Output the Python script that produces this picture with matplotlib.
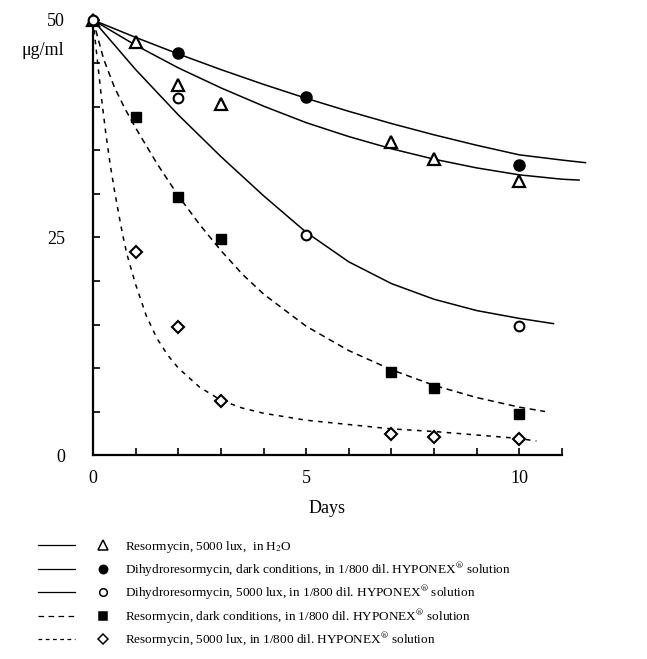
import matplotlib
matplotlib.use("Agg")
import matplotlib.pyplot as plt
from matplotlib.lines import Line2D
from matplotlib.legend_handler import HandlerTuple

plt.rcParams['font.family'] = ['Liberation Serif', 'DejaVu Serif']
plt.rcParams['mathtext.fontset'] = 'stix'

# ---- measured points ----
tri_days = [0, 1, 2, 3, 7, 8, 10]
tri_vals = [50, 47.5, 42.5, 40.4, 36.0, 34.0, 31.5]

fcirc_days = [2, 5, 10]
fcirc_vals = [46.2, 41.1, 33.3]

ocirc_days = [0, 2, 5, 10]
ocirc_vals = [50, 41.0, 25.3, 14.8]

sq_days = [1, 2, 3, 7, 8, 10]
sq_vals = [38.9, 29.7, 24.8, 9.5, 7.7, 4.7]

dia_days = [1, 2, 3, 7, 8, 10]
dia_vals = [23.3, 14.7, 6.2, 2.4, 2.1, 1.8]

# ---- fitted curves ----
curveA_x = [0, 1, 2, 3, 4, 5, 6, 7, 8, 9, 10, 11, 11.55]
curveA_y = [50, 48.0, 46.1, 44.3, 42.6, 41.0, 39.5, 38.1, 36.8, 35.6, 34.5, 33.9, 33.6]

curveB_x = [0, 1, 2, 3, 4, 5, 6, 7, 8, 9, 10, 11, 11.4]
curveB_y = [50, 47.1, 44.5, 42.2, 40.1, 38.2, 36.6, 35.2, 34.0, 33.0, 32.2, 31.7, 31.6]

curveC_x = [0, 1, 2, 3, 4, 5, 6, 7, 8, 9, 10, 10.8]
curveC_y = [50, 44.3, 39.1, 34.3, 29.8, 25.6, 22.2, 19.7, 17.9, 16.6, 15.7, 15.1]

curveD_x = [0, 0.25, 0.5, 0.75, 1, 1.5, 2, 2.5, 3, 3.5, 4, 5, 6, 7, 8, 9, 10, 10.6]
curveD_y = [50, 45.5, 42.3, 39.8, 37.6, 33.5, 29.8, 26.5, 23.5, 20.8, 18.5, 14.8, 12.0, 9.8, 8.0, 6.6, 5.5, 5.0]

curveE_x = [0, 0.1, 0.2, 0.3, 0.4, 0.5, 0.6, 0.7, 0.8, 1.0, 1.25, 1.5, 1.75, 2, 2.5, 3, 3.5, 4, 5, 6, 7, 8, 9, 10, 10.4]
curveE_y = [50, 45.5, 41.0, 37.0, 33.5, 30.5, 27.8, 25.2, 23.0, 19.6, 16.0, 13.4, 11.5, 10.0, 7.8, 6.3, 5.4, 4.8, 4.0, 3.5, 3.0, 2.7, 2.3, 1.9, 1.6]

x_ticks = list(range(0, 12))
x_labels = ['0' if t == 0 else '5' if t == 5 else '10' if t == 10 else '' for t in x_ticks]
y_ticks = list(range(0, 51, 5))
y_labels = ['0' if t == 0 else '25' if t == 25 else '50' if t == 50 else '' for t in y_ticks]

legend_labels = [
    r"Resormycin, 5000 lux,  in H$_2$O",
    r"Dihydroresormycin, dark conditions, in 1/800 dil. HYPONEX$^{\circledR}$ solution",
    r"Dihydroresormycin, 5000 lux, in 1/800 dil. HYPONEX$^{\circledR}$ solution",
    r"Resormycin, dark conditions, in 1/800 dil. HYPONEX$^{\circledR}$ solution",
    r"Resormycin, 5000 lux, in 1/800 dil. HYPONEX$^{\circledR}$ solution",
]

W, H = 647, 659
fig = plt.figure(figsize=(W / 100, H / 100), dpi=100)
ax = fig.add_axes([93 / W, 1 - 455 / H, (562 - 93) / W, (455 - 20) / H])

lw = 1.1
ax.plot(curveA_x, curveA_y, color='black', lw=lw, clip_on=False)
ax.plot(curveB_x, curveB_y, color='black', lw=lw, clip_on=False)
ax.plot(curveC_x, curveC_y, color='black', lw=lw, clip_on=False)
ax.plot(curveD_x, curveD_y, color='black', lw=lw, ls=(0, (4, 3)), clip_on=False)
ax.plot(curveE_x, curveE_y, color='black', lw=lw, ls=(0, (3, 3.5)), clip_on=False)

mk = dict(color='black', ls='none', clip_on=False, zorder=5)
ax.plot(tri_days, tri_vals, marker='^', ms=9, mfc='white', mew=1.6, **mk)
ax.plot(fcirc_days, fcirc_vals, marker='o', ms=8, mfc='black', **mk)
ax.plot(ocirc_days, ocirc_vals, marker='o', ms=7, mfc='white', mew=1.5, **mk)
ax.plot(sq_days, sq_vals, marker='s', ms=7.5, mfc='black', **mk)
ax.plot(dia_days, dia_vals, marker='D', ms=6.5, mfc='white', mew=1.5, **mk)

ax.set_xlim(0, 11)
ax.set_ylim(0, 50)
for s in ['top', 'right']:
    ax.spines[s].set_visible(False)
for s in ['left', 'bottom']:
    ax.spines[s].set_linewidth(1.6)
ax.set_xticks(x_ticks)
ax.set_xticklabels(x_labels)
ax.set_yticks(y_ticks)
ax.set_yticklabels(y_labels)
ax.tick_params(axis='both', direction='in', length=5, width=1.2, labelsize=13)
ax.tick_params(axis='y', pad=20)
ax.tick_params(axis='x', pad=11)
ax.set_xlabel('Days', fontsize=13, labelpad=9)
ax.set_ylabel('μg/ml', fontsize=13, rotation=0, ha='center', va='center')
ax.yaxis.set_label_coords(-0.107, 0.931)

# legend
def seg(ls):
    return Line2D([], [], color='black', lw=0.9, ls=ls)

def mark(m, fc, ms):
    return Line2D([], [], color='black', ls='none', marker=m, mfc=fc, ms=ms, mew=1.1)

handles = [
    (seg('-'), mark('^', 'white', 7)),
    (seg('-'), mark('o', 'black', 6)),
    (seg('-'), mark('o', 'white', 5.5)),
    (seg((0, (4.5, 3.5))), mark('s', 'black', 5.5)),
    (seg((0, (3, 2.8))), mark('D', 'white', 5)),
]
fig.legend(handles, legend_labels,
           handler_map={tuple: HandlerTuple(ndivide=None, pad=0.72)},
           loc='upper left', bbox_to_anchor=(38 / W, 1 - 539 / H),
           frameon=False, fontsize=9.5, handlelength=6.33, handletextpad=0.27,
           labelspacing=0.36, borderaxespad=0, borderpad=0)

fig.savefig('out.png', dpi=100)
